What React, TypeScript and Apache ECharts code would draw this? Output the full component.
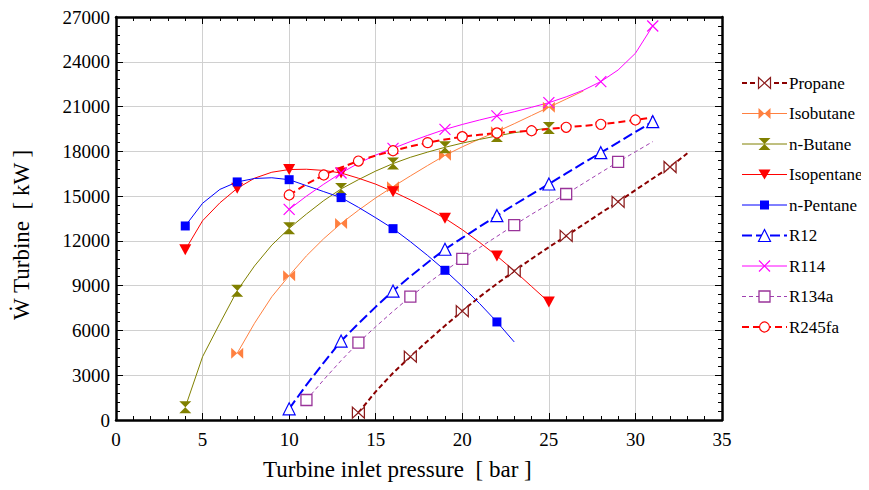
import React, { useEffect, useRef } from "react";
import * as echarts from "echarts";

// Turbine inlet pressure [bar] and turbine power [kW] per working fluid
const propaneP = [14, 15, 16, 17, 18, 19, 20, 21, 22, 23, 24, 25, 26, 27, 28, 29, 30, 31, 32, 33];
const propaneW = [490, 1900, 3150, 4240, 5300, 6320, 7300, 8250, 9130, 9980, 10800, 11580, 12330, 13100, 13870, 14620, 15400, 16180, 16950, 17870];

const isobutaneP = [7, 8, 9, 10, 11, 12, 13, 14, 15, 16, 17, 18, 19, 20, 21, 22, 23, 24, 25, 26, 27];
const isobutaneW = [4470, 6480, 8260, 9670, 11000, 12150, 13170, 14050, 14880, 15630, 16350, 17050, 17730, 18300, 18830, 19320, 19850, 20400, 20950, 21500, 22050];

const nButaneP = [4, 5, 6, 7, 8, 9, 10, 11, 12, 13, 14, 15, 16, 17, 18, 19, 20, 21, 22, 23, 24, 25];
const nButaneW = [850, 4240, 6480, 8660, 10320, 11720, 12840, 13800, 14700, 15480, 16100, 16680, 17180, 17600, 17950, 18270, 18550, 18800, 19030, 19250, 19400, 19560];

const isopentaneP = [4, 5, 6, 7, 8, 9, 10, 11, 12, 13, 14, 15, 16, 17, 18, 19, 20, 21, 22, 23, 24, 25];
const isopentaneW = [11400, 13350, 14550, 15520, 16200, 16600, 16780, 16800, 16720, 16550, 16200, 15800, 15300, 14750, 14150, 13510, 12750, 11900, 10990, 10000, 8950, 7900];

const nPentaneP = [4, 5, 6, 7, 8, 9, 10, 11, 12, 13, 14, 15, 16, 17, 18, 19, 20, 21, 22, 23];
const nPentaneW = [13000, 14520, 15450, 15950, 16180, 16230, 16100, 15700, 15300, 14900, 14250, 13550, 12820, 11950, 11020, 10030, 8950, 7800, 6570, 5230];

const r12P = [10, 11, 12, 13, 14, 15, 16, 17, 18, 19, 20, 21, 22, 23, 24, 25, 26, 27, 28, 29, 30, 31];
const r12W = [750, 2350, 3850, 5290, 6460, 7580, 8640, 9620, 10550, 11440, 12200, 12950, 13690, 14420, 15120, 15810, 16520, 17220, 17910, 18600, 19300, 19990];

const r114P = [10, 11, 12, 13, 14, 15, 16, 17, 18, 19, 20, 21, 22, 23, 24, 25, 26, 27, 28, 29, 30, 31];
const r114W = [14115, 15000, 15800, 16550, 17200, 17750, 18200, 18650, 19070, 19470, 19800, 20100, 20380, 20650, 20950, 21260, 21650, 22100, 22670, 23450, 24570, 26400];

const r134aP = [11, 12, 13, 14, 15, 16, 17, 18, 19, 20, 21, 22, 23, 24, 25, 26, 27, 28, 29, 30, 31];
const r134aW = [1340, 2700, 3980, 5180, 6250, 7280, 8260, 9150, 10000, 10790, 11550, 12300, 13060, 13780, 14470, 15140, 15860, 16580, 17290, 17970, 18650];

const r245faP = [10, 11, 12, 13, 14, 15, 16, 17, 18, 19, 20, 21, 22, 23, 24, 25, 26, 27, 28, 29, 30, 31];
const r245faW = [15075, 15800, 16415, 16920, 17350, 17720, 18040, 18330, 18580, 18790, 18980, 19110, 19230, 19310, 19380, 19500, 19610, 19710, 19810, 19950, 20100, 20280];

// Tick labels
const xTickLabels = [0, 5, 10, 15, 20, 25, 30, 35];
const yTickLabels = [0, 3000, 6000, 9000, 12000, 15000, 18000, 21000, 24000, 27000];

const xTicks = { min: 0, max: 35, interval: 5 };
const yTicks = { min: 0, max: 27000, interval: 3000 };

const SERIF = "Liberation Serif";

const BOWTIE = "path://M0,0 L10,5 L0,10 Z M20,0 L10,5 L20,10 Z";
const HOURGLASS = "path://M0,0 L10,0 L5,10 Z M0,20 L10,20 L5,10 Z";
const DOWNTRI = "path://M0,0 L10,0 L5,9 Z";
const CROSS = "path://M0,0 L10,10 M10,0 L0,10";

type Spec = {
  name: string;
  p: number[];
  w: number[];
  step: number;
  line: string;
  width: number;
  dash: any;
  symbol: string;
  kind: string;
  size: any;
  fill: string;
  border: string;
  bw: number;
};

const specs: Spec[] = [
  { name: "Propane", p: propaneP, w: propaneW, step: 3, line: "#8b0000", width: 2, dash: [5, 3], symbol: BOWTIE, kind: "bowtie", size: [12, 11], fill: "#ffffff", border: "#8b1a1a", bw: 1.2 },
  { name: "Isobutane", p: isobutaneP, w: isobutaneW, step: 3, line: "#ff8040", width: 1, dash: "solid", symbol: BOWTIE, kind: "bowtie", size: [12, 11], fill: "#ff8040", border: "#ff8040", bw: 0 },
  { name: "n-Butane", p: nButaneP, w: nButaneW, step: 3, line: "#808000", width: 1, dash: "solid", symbol: HOURGLASS, kind: "hourglass", size: [12, 12], fill: "#808000", border: "#808000", bw: 0 },
  { name: "Isopentane", p: isopentaneP, w: isopentaneW, step: 3, line: "#ff0000", width: 1, dash: "solid", symbol: DOWNTRI, kind: "downtri", size: [12, 11], fill: "#ff0000", border: "#ff0000", bw: 0 },
  { name: "n-Pentane", p: nPentaneP, w: nPentaneW, step: 3, line: "#0000ff", width: 1, dash: "solid", symbol: "rect", kind: "rect", size: 9, fill: "#0000ff", border: "#0000ff", bw: 0 },
  { name: "R12", p: r12P, w: r12W, step: 3, line: "#0000ff", width: 2, dash: [10, 4], symbol: "triangle", kind: "triangle", size: 12, fill: "#ffffff", border: "#0000ff", bw: 1.2 },
  { name: "R114", p: r114P, w: r114W, step: 3, line: "#ff00ff", width: 1, dash: "solid", symbol: CROSS, kind: "cross", size: 11, fill: "#ff00ff", border: "#ff00ff", bw: 1.2 },
  { name: "R134a", p: r134aP, w: r134aW, step: 3, line: "#a040b0", width: 1, dash: [4, 3], symbol: "rect", kind: "rect", size: 11, fill: "#ffffff", border: "#993399", bw: 1.3 },
  { name: "R245fa", p: r245faP, w: r245faW, step: 2, line: "#ff0000", width: 2, dash: [7, 4], symbol: "circle", kind: "circle", size: 10, fill: "#ffffff", border: "#ff0000", bw: 1.2 },
];

function buildSeries(s: Spec) {
  return {
    name: s.name,
    type: "line",
    xAxisIndex: 0,
    yAxisIndex: 0,
    data: s.p.map((p, i) =>
      i % s.step === 0 ? { value: [p, s.w[i]] } : { value: [p, s.w[i]], symbol: "none" }
    ),
    symbol: s.symbol,
    symbolSize: s.size,
    showSymbol: true,
    lineStyle: { color: s.line, width: s.width, type: s.dash },
    itemStyle: { color: s.fill, borderColor: s.border, borderWidth: s.bw },
  };
}

function legendSymbol(s: Spec): any[] {
  const st: any = { fill: s.fill, stroke: s.bw > 0 ? s.border : null, lineWidth: s.bw };
  const poly = (pts: number[][]) => ({ type: "polygon", shape: { points: pts }, style: { ...st } });
  switch (s.kind) {
    case "bowtie":
      return [poly([[-6, -5.5], [0, 0], [-6, 5.5]]), poly([[6, -5.5], [0, 0], [6, 5.5]])];
    case "hourglass":
      return [poly([[-6, -6], [6, -6], [0, 0]]), poly([[-6, 6], [6, 6], [0, 0]])];
    case "downtri":
      return [poly([[-6, -5], [6, -5], [0, 5]])];
    case "triangle":
      return [poly([[0, -6], [6, 6], [-6, 6]])];
    case "rect": {
      const h = (s.size as number) / 2;
      return [{ type: "rect", shape: { x: -h, y: -h, width: 2 * h, height: 2 * h }, style: { ...st } }];
    }
    case "circle":
      return [{ type: "circle", shape: { cx: 0, cy: 0, r: 5 }, style: { ...st } }];
    case "cross":
      return [
        { type: "line", shape: { x1: -5.5, y1: -5.5, x2: 5.5, y2: 5.5 }, style: { stroke: s.border, lineWidth: 1.2 } },
        { type: "line", shape: { x1: 5.5, y1: -5.5, x2: -5.5, y2: 5.5 }, style: { stroke: s.border, lineWidth: 1.2 } },
      ];
    default:
      return [];
  }
}

const axisCommon = {
  type: "value",
  axisLine: { show: true, onZero: false, lineStyle: { color: "#000", width: 2.5 } },
  axisTick: { show: true, inside: true, length: 7, lineStyle: { color: "#000", width: 1 } },
  minorTick: { show: true, splitNumber: 5, length: 4, lineStyle: { color: "#000", width: 1 } },
  axisLabel: { show: false },
};

export default function App() {
  const ref = useRef<HTMLDivElement>(null);
  useEffect(() => {
    if (!ref.current) return;
    const chart = echarts.init(ref.current, null, { renderer: "svg" });
    chart.setOption({
      animation: false,
      grid: { left: 116, right: 147, top: 17, bottom: 70, containLabel: false },
      xAxis: [
        { ...axisCommon, position: "bottom", ...xTicks, splitLine: { show: true, lineStyle: { color: "#d0d0d0", width: 1 } } },
        { ...axisCommon, position: "top", ...xTicks, splitLine: { show: false } },
      ],
      yAxis: [
        { ...axisCommon, position: "left", ...yTicks, splitLine: { show: true, lineStyle: { color: "#d0d0d0", width: 1 } } },
        { ...axisCommon, position: "right", ...yTicks, splitLine: { show: false } },
      ],
      series: specs.map(buildSeries),
    });

    const x0 = chart.convertToPixel({ xAxisIndex: 0 }, 0) as number;
    const y0 = chart.convertToPixel({ yAxisIndex: 0 }, 0) as number;
    // Small text is drawn at double size and scaled by half, so that the serif face is kept.
    const txt = (text: string, x: number, y: number, size: number, align: string, vAlign: string, extra: any = {}, k = 1) => ({
      type: "text",
      x,
      y,
      scaleX: 1 / k,
      scaleY: 1 / k,
      silent: true,
      ...extra,
      style: { text, fill: "#000", fontFamily: SERIF, fontSize: size * k, align, verticalAlign: vAlign },
    });

    const graphics: any[] = [];
    xTickLabels.forEach((v) => {
      const px = chart.convertToPixel({ xAxisIndex: 0 }, v) as number;
      graphics.push(txt(String(v), px, y0 + 10, 19, "center", "top", {}, 2));
    });
    yTickLabels.forEach((v) => {
      const py = chart.convertToPixel({ yAxisIndex: 0 }, v) as number;
      graphics.push(txt(String(v), x0 - 6, py, 19, "right", "middle", {}, 2));
    });

    // legend
    const lgLeft = 742;
    const lgTop = 83;
    const lgStep = 30.5;
    specs.forEach((s, i) => {
      const cy = lgTop + i * lgStep;
      graphics.push({
        type: "line",
        silent: true,
        shape: { x1: lgLeft, y1: cy, x2: lgLeft + 45, y2: cy },
        style: { stroke: s.line, lineWidth: s.width, lineDash: Array.isArray(s.dash) ? s.dash : null },
      });
      graphics.push({ type: "group", x: lgLeft + 22.5, y: cy, silent: true, children: legendSymbol(s) });
      graphics.push(txt(s.name, lgLeft + 47, cy, 17, "left", "middle", {}, 2));
    });

    // axis titles
    graphics.push(txt("Turbine inlet pressure  [ bar ]", 263, 458, 23, "left", "top"));
    graphics.push(txt("\u1E86 Turbine  [ kW ]", 10, 320, 23, "left", "top", { rotation: Math.PI / 2 }));

    chart.setOption({ graphic: graphics });
    return () => chart.dispose();
  }, []);
  return <div ref={ref} style={{ width: 869, height: 490, margin: -8 }} />;
}
